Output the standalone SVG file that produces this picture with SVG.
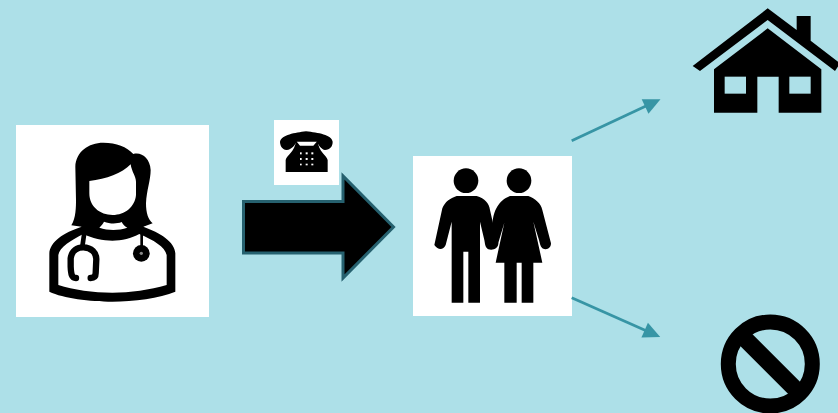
<svg xmlns="http://www.w3.org/2000/svg" width="838" height="413" viewBox="0 0 838 413">
<style>
.bg{fill:#ade0e8}
.card{fill:#fff}
.ink{fill:#000}
.wire{fill:none;stroke:#000;stroke-linecap:round;stroke-linejoin:round}
.conn{fill:none;stroke:#3795a5;stroke-width:2.8}
</style>
<defs>
<marker id="head" markerUnits="userSpaceOnUse" markerWidth="20" markerHeight="20" refX="0" refY="10" orient="auto" overflow="visible">
<path d="M-1,2 L16,10 L-1,18 Z" fill="#3795a5"/>
</marker>
</defs>
<rect class="bg" width="838" height="413"/>
<g id="doctor">
<rect class="card" x="16" y="125" width="193" height="192"/>
<g transform="translate(0,110) scale(.33333)">
<path class="ink" d="M148,545 V430 C150,395 190,368 245,350 L214,346 C228,325 228,290 228,270 L226,170 C228,125 265,98 310,98 C350,98 380,110 400,132 C425,125 450,145 452,180 C452,210 440,240 438,280 C438,310 445,330 458,340 L430,350 C480,368 525,395 526,430 V545 C480,565 400,575 337,575 C270,575 190,565 148,545Z"/>
<path class="card" d="M268,213 C320,208 365,190 392,163 C395,185 408,200 408,215 L408,255 C405,290 375,315 338,315 C300,315 268,290 268,250Z"/>
<path class="card" d="M298,353 C305,345 310,340 312,335 C330,342 350,342 365,336 C370,345 375,350 382,353 C355,362 325,362 298,353Z"/>
<path class="card" d="M175,525 V435 C178,412 215,390 250,372 C275,385 310,392 337,392 C365,392 395,385 418,372 C460,390 495,410 500,435 V525 C450,540 390,548 337,548 C280,548 220,540 175,525Z"/>
<path class="wire" stroke-width="14" d="M252,375 L247,410"/>
<path class="wire" stroke-width="19" d="M228,504 C215,504 213,492 212,470 L212,445 C215,422 232,412 250,412 C275,412 289,430 289,447 L287,490 C287,500 281,504 272,504"/>
<path class="wire" stroke-width="8" d="M425,372 V410"/>
<circle class="ink" cx="424" cy="430" r="25"/>
<circle cx="424" cy="430" r="5" fill="#888"/>
</g>
</g>
<g id="phone">
<rect class="card" x="274" y="120" width="65" height="65"/>
<g transform="translate(235,110) scale(.33333)">
<path class="ink" d="M135,95 C140,75 180,68 213,64 C250,68 290,75 293,95 C293,110 285,118 270,120 C260,118 250,105 245,95 L185,95 C180,105 170,118 155,120 C140,118 135,105 135,95Z"/>
<path class="ink" d="M152,186 V150 C155,135 180,125 183,92 L195,107 H235 L248,92 C250,125 275,135 278,150 V186Z"/>
<g class="card">
<rect x="195" y="127" width="5" height="6"/><rect x="212" y="127" width="6" height="6"/><rect x="229" y="127" width="6" height="6"/>
<rect x="195" y="144" width="5" height="6"/><rect x="212" y="144" width="6" height="6"/><rect x="229" y="144" width="6" height="6"/>
<rect x="195" y="161" width="5" height="5"/><rect x="212" y="161" width="6" height="5"/><rect x="229" y="161" width="6" height="5"/>
</g>
</g>
</g>
<g id="big-arrow">
<path d="M243.500,201.500 H343 V176 L393.500,227 L343,278 V253 H243.500Z" fill="#000" stroke="#26616f" stroke-width="3"/>
</g>
<g id="people">
<rect class="card" x="413" y="156" width="159" height="160"/>
<g transform="translate(405,150) scale(.33333)">
<circle class="ink" cx="183" cy="92" r="37"/>
<circle class="ink" cx="342" cy="92" r="37"/>
<path class="ink" d="M155,138 H215 C240,145 252,160 255,180 L263,215 L280,280 C280,295 265,302 250,298 C240,292 240,280 238,270 L225,215 V458 H190 V305 H175 V458 H140 V215 L122,285 C115,300 100,302 88,285 L112,175 C120,155 135,145 155,138Z"/>
<path class="ink" d="M315,138 H370 C390,145 408,160 412,180 L438,280 C438,295 425,302 412,295 C405,288 405,280 402,270 L385,215 L412,338 H385 V458 H350 V338 H335 V458 H298 V338 H272 L298,218 L278,285 L262,225 C265,170 290,148 315,138Z"/>
</g>
</g>
<g id="house">
<g transform="translate(680,0) scale(.33333)">
<path class="ink" d="M38,198 L263,25 L350,90 V48 H392 V122 L480,190 L465,213 L263,60 L60,213Z"/>
<path class="ink" d="M102,208 L263,85 L424,208 V338 H296 V230 H232 V338 H102Z"/>
<rect class="bg" x="134" y="230" width="64" height="51"/>
<rect class="bg" x="328" y="230" width="64" height="51"/>
</g>
</g>
<g id="no-sign">
<circle cx="770.300" cy="364" r="42" fill="none" stroke="#000" stroke-width="15"/>
<path d="M740.500,334.200 L800,393.800" fill="none" stroke="#000" stroke-width="17"/>
</g>
<g id="connectors">
<path class="conn" d="M571.700,140.700 L646,106" marker-end="url(#head)"/>
<path class="conn" d="M571.700,297.700 L645.600,330.500" marker-end="url(#head)"/>
</g>
</svg>
